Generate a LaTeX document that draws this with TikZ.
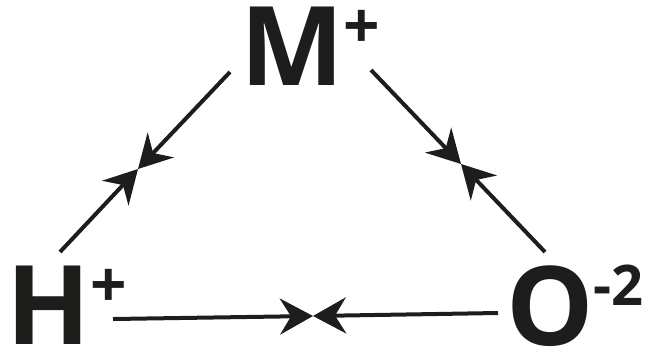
\documentclass[tikz,border=0pt]{standalone}
\usepackage{fontspec}
\setmainfont{Open Sans}
\usetikzlibrary{arrows.meta}
\definecolor{ink}{HTML}{1D1D1B}
\newcommand\chg[2]{\raisebox{#1}{\fontsize{#2}{#2}\selectfont\bfseries}}
\newcommand\plussup{\raisebox{37pt}{\fontsize{64}{64}\selectfont +}}
\newcommand\twosup{\raisebox{40pt}{\fontsize{56}{56}\selectfont -2}}
\begin{document}
\begin{tikzpicture}[x=1pt,y=-1pt,
  lbl/.style={anchor=base west,inner sep=0pt,text=ink,font=\bfseries\fontsize{110}{110}\selectfont},
  edge/.style={draw=ink,line width=4pt,-{Stealth[length=33pt,width=36pt,inset=11pt]}}]
\useasboundingbox (0,0) rectangle (652,354);
\node[lbl] (M) at (240,85) {M\plussup};
\node[lbl] (H) at (6,344) {H\plussup};
\node[lbl] (O) at (506,345) {O\twosup};
\coordinate (h1) at (60,252);
\coordinate (m1) at (230,72);
\coordinate (c1) at (138,169);
\coordinate (m2) at (371,70);
\coordinate (o1) at (545,252);
\coordinate (c2) at (461,164);
\coordinate (h2) at (113,319);
\coordinate (o2) at (498,313);
\coordinate (c3) at (313,316);
\draw[edge] (h1) -- (c1);
\draw[edge] (m1) -- (c1);
\draw[edge] (m2) -- (c2);
\draw[edge] (o1) -- (c2);
\draw[edge] (h2) -- (c3);
\draw[edge] (o2) -- (c3);
\end{tikzpicture}
\end{document}
